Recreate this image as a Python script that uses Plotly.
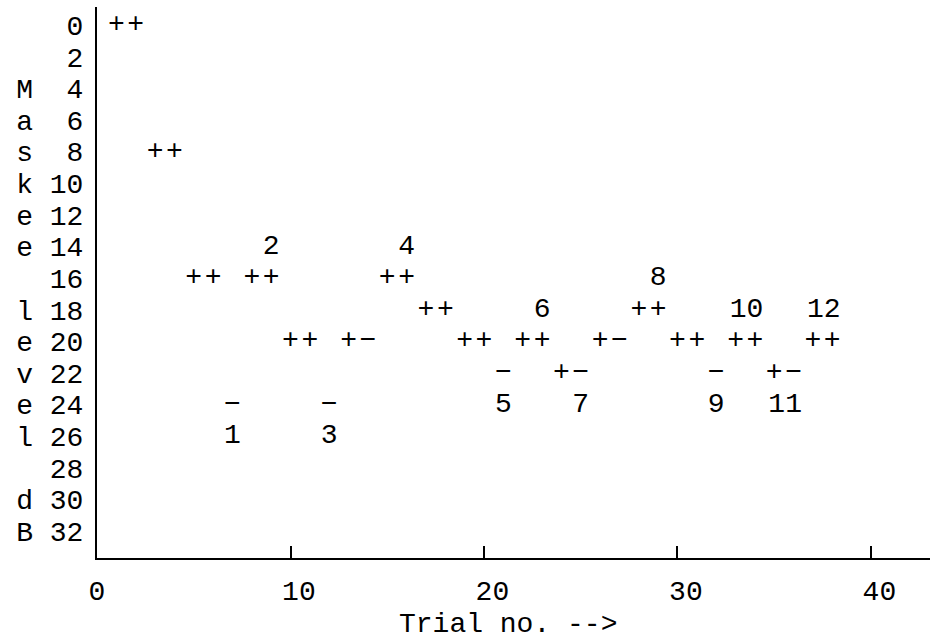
import plotly.graph_objects as go

# ---- data ----
trials = list(range(1, 39))
levels = [0, 0, 8, 8, 16, 16, 24, 16, 16, 20, 20, 24, 20, 20, 16, 16, 18, 18, 20, 20,
          22, 20, 20, 22, 22, 20, 20, 18, 18, 20, 20, 22, 20, 20, 22, 22, 20, 20]
responses = ["+", "+", "+", "+", "+", "+", "\u2212", "+", "+", "+", "+", "\u2212", "+", "\u2212", "+", "+",
             "+", "+", "+", "+", "\u2212", "+", "+", "+", "\u2212", "+", "\u2212", "+", "+", "+", "+", "\u2212",
             "+", "+", "+", "\u2212", "+", "+"]

rev_labels = ["1", "2", "3", "4", "5", "6", "7", "8", "9", "10", "11", "12"]
rev_trials = [7, 9, 12, 16, 21, 23, 25, 29, 32, 34, 36, 38]
rev_label_levels = [26, 14, 26, 14, 24, 18, 24, 16, 24, 18, 24, 18]

y_tick_vals = list(range(0, 33, 2))
y_letters = ["", "", "M", "a", "s", "k", "e", "e", "", "l", "e", "v", "e", "l", "", "d", "B"]
x_tick_vals = [0, 10, 20, 30, 40]
x_title = "Trial no. -->"

# ---- styling ----
FONT = "Liberation Mono, Courier New, monospace"
FS = 28
NB = "\u00a0"
CHAR_W = 0.87  # approx. character advance in trial units

rev_x = [t - (len(s) - 1) * CHAR_W / 2 for t, s in zip(rev_trials, rev_labels)]

y_tick_text = [(l if l else NB) + NB + f"{v:>2}".replace(" ", NB) for l, v in zip(y_letters, y_tick_vals)]
x_tick_text = [(NB * (len(str(v)) - 1)) + str(v) for v in x_tick_vals]

tf = dict(family=FONT, size=FS, color="black")

fig = go.Figure()
fig.add_trace(go.Scatter(
    x=trials, y=levels, text=responses, mode="text",
    textposition="middle center", textfont=tf,
    hoverinfo="skip", showlegend=False,
))
fig.add_trace(go.Scatter(
    x=rev_x, y=rev_label_levels, text=rev_labels, mode="text",
    textposition="middle center", textfont=tf,
    hoverinfo="skip", showlegend=False,
))

fig.update_layout(
    width=930, height=642,
    margin=dict(l=97, r=0, t=7, b=84, pad=0),
    paper_bgcolor="white", plot_bgcolor="white",
    font=dict(family=FONT, size=FS, color="black"),
    xaxis=dict(
        range=[0, 43.05], showgrid=False, zeroline=False,
        showline=True, linecolor="black", linewidth=2,
        ticks="inside", ticklen=12, tickwidth=1.5, tickcolor="black",
        tickvals=x_tick_vals, ticktext=x_tick_text,
        tickfont=tf, ticklabelstandoff=6,
    ),
    yaxis=dict(
        range=[33.7, -1.15], showgrid=False, zeroline=False,
        showline=True, linecolor="black", linewidth=2,
        ticks="", tickvals=y_tick_vals, ticktext=y_tick_text,
        tickfont=tf, ticklabelstandoff=6,
    ),
    annotations=[dict(
        text=x_title, xref="paper", yref="paper", x=0.493, y=-0.121,
        xanchor="center", yanchor="middle", showarrow=False, font=tf,
    )],
)

fig.write_html("out.html")
